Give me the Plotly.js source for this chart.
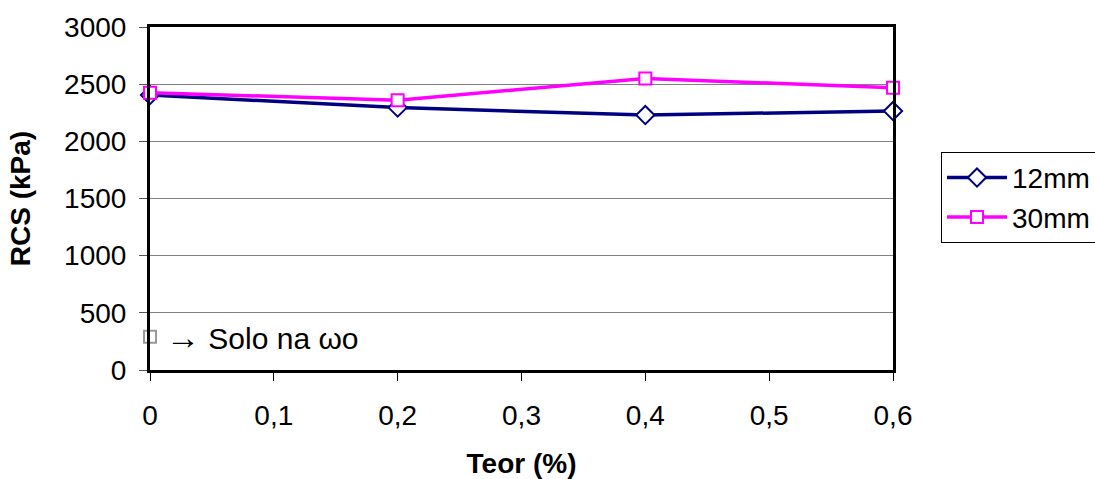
<!DOCTYPE html>
<html>
<head>
<meta charset="utf-8">
<script src="https://cdn.plot.ly/plotly-3.0.1.min.js"></script>
<style>
  html, body { margin: 0; padding: 0; background: #fff; }
  #chart { width: 1095px; height: 479px; }
</style>
</head>
<body>
<div id="chart"></div>
<script>
// Fibre content (%) and unconfined compressive strength (kPa)
const teor = [0, 0.2, 0.4, 0.6];
const rcs12mm = [2405, 2295, 2230, 2265];
const rcs30mm = [2425, 2360, 2550, 2468];

// Reference value for the soil alone
const soloTeor = [0];
const soloRcs = [290];
const soloLabel = '<span style="font-size:34px">\u2192</span> Solo na \u03c9o';

const xTickVals = [0, 0.1, 0.2, 0.3, 0.4, 0.5, 0.6];
const xTickText = ['0', '0,1', '0,2', '0,3', '0,4', '0,5', '0,6'];
const yTickVals = [0, 500, 1000, 1500, 2000, 2500, 3000];
const yTickText = ['0', '500', '1000', '1500', '2000', '2500', '3000'];

const FONT = 'Liberation Sans, Arial, sans-serif';

const traces = [
  {
    x: teor, y: rcs12mm, name: '12mm', mode: 'lines+markers',
    line: { color: '#000080', width: 3.5 },
    marker: { symbol: 'diamond', size: 14, color: '#ffffff', line: { color: '#000080', width: 2 } },
    cliponaxis: false
  },
  {
    x: teor, y: rcs30mm, name: '30mm', mode: 'lines+markers',
    line: { color: '#ff00ff', width: 3.5 },
    marker: { symbol: 'square', size: 12, color: '#ffffff', line: { color: '#ff00ff', width: 2 } },
    cliponaxis: false
  },
  {
    x: soloTeor, y: soloRcs, name: 'Solo', mode: 'markers', showlegend: false,
    marker: { symbol: 'square', size: 12, color: '#ffffff', line: { color: '#999999', width: 2 } },
    cliponaxis: false
  }
];

const layout = {
  width: 1095, height: 479,
  margin: { l: 150, r: 202, t: 27, b: 109, autoexpand: false },
  paper_bgcolor: '#ffffff', plot_bgcolor: '#ffffff',
  font: { family: FONT, size: 28, color: '#000' },
  showlegend: true,
  legend: {
    x: 1.0646, y: 0.636, xanchor: 'left', yanchor: 'top',
    bordercolor: '#000', borderwidth: 1, bgcolor: '#fff',
    font: { family: FONT, size: 28, color: '#000' },
    itemwidth: 60
  },
  xaxis: {
    range: [0, 0.6], tickvals: xTickVals, ticktext: xTickText,
    ticks: 'outside', ticklen: 8, tickwidth: 1, tickcolor: '#000',
    showline: true, linecolor: '#000', linewidth: 3, mirror: true,
    showgrid: false, zeroline: false, ticklabelstandoff: 10,
    tickfont: { family: FONT, size: 28 },
    title: { text: '<b>Teor (%)</b>', font: { family: FONT, size: 28 }, standoff: 26 }
  },
  yaxis: {
    range: [0, 3000], tickvals: yTickVals, ticktext: yTickText,
    ticks: 'outside', ticklen: 8, tickwidth: 1, tickcolor: '#555',
    showline: true, linecolor: '#000', linewidth: 3, mirror: true,
    showgrid: true, gridcolor: '#808080', gridwidth: 1, zeroline: false,
    ticklabelstandoff: 7,
    tickfont: { family: FONT, size: 28 },
    title: { text: '<b>RCS (kPa)</b>', font: { family: FONT, size: 28 }, standoff: 26 }
  },
  annotations: [
    {
      x: soloTeor[0], y: soloRcs[0], xref: 'x', yref: 'y',
      text: soloLabel, showarrow: false, xanchor: 'left', yanchor: 'middle',
      xshift: 14, font: { family: FONT, size: 30, color: '#000' }
    }
  ]
};

Plotly.newPlot('chart', traces, layout, { displayModeBar: false, staticPlot: true });
</script>
</body>
</html>
